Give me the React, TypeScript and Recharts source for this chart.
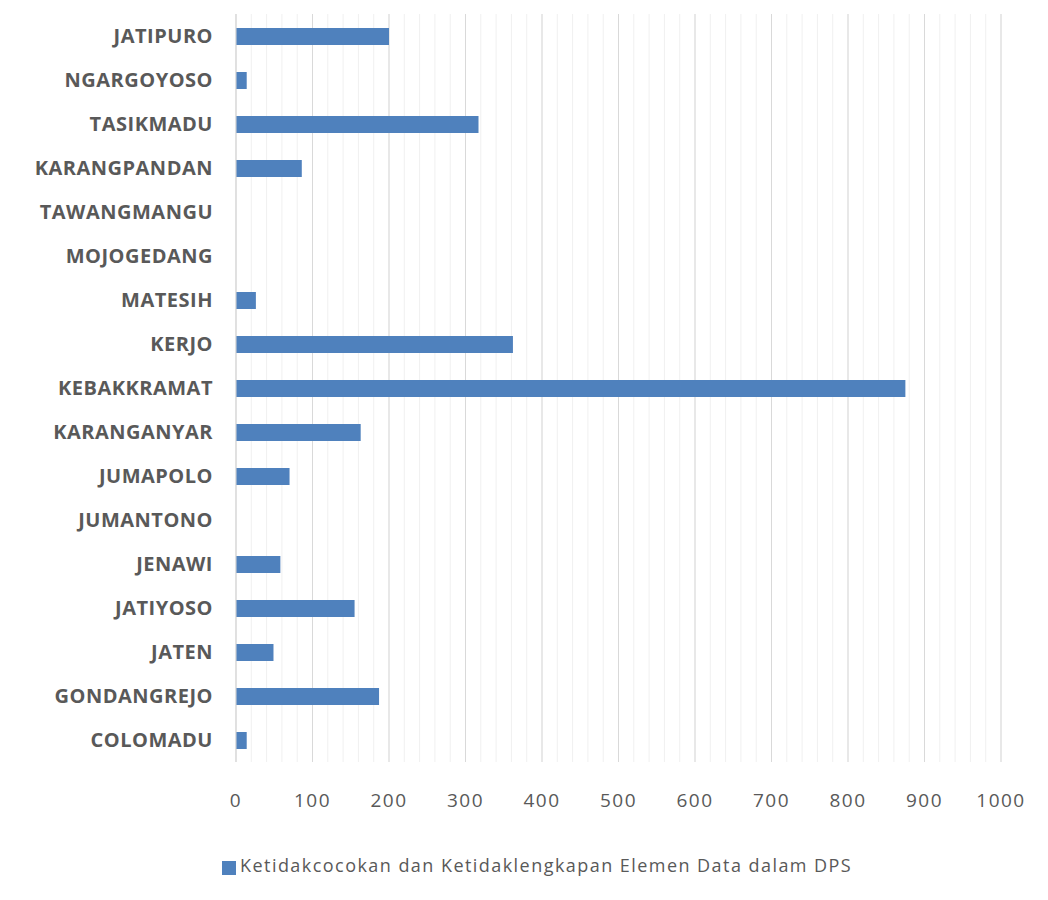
import { Bar, BarChart, CartesianGrid, Legend, XAxis, YAxis } from 'recharts'

const kecamatan = [
  'JATIPURO',
  'NGARGOYOSO',
  'TASIKMADU',
  'KARANGPANDAN',
  'TAWANGMANGU',
  'MOJOGEDANG',
  'MATESIH',
  'KERJO',
  'KEBAKKRAMAT',
  'KARANGANYAR',
  'JUMAPOLO',
  'JUMANTONO',
  'JENAWI',
  'JATIYOSO',
  'JATEN',
  'GONDANGREJO',
  'COLOMADU',
]

const ketidakcocokan = [200, 14, 317, 86, 0, 0, 26, 362, 875, 163, 70, 0, 58, 155, 49, 187, 14]

const majorTicks = [0, 100, 200, 300, 400, 500, 600, 700, 800, 900, 1000]
const minorTicks = Array.from({ length: 51 }, (_, i) => i * 20)

const seriesName = 'Ketidakcocokan dan Ketidaklengkapan Elemen Data dalam DPS'

const data = kecamatan.map((name, i) => ({ name, value: ketidakcocokan[i] }))

const BLUE = '#4F81BD'
const TEXT = '#595959'

// minor gridlines every 20 units
const minorLines = ({ xAxis, offset }: any) => {
  const sc = xAxis?.scale
  if (typeof sc === 'function') return minorTicks.map((t) => sc(t))
  return minorTicks.map((t) => offset.left + (t / 1000) * offset.width)
}

export default function App() {
  return (
    <div style={{ marginLeft: -2, borderLeft: '2px solid #e3e3e3', width: 1032, height: 884 }}>
      <BarChart
        width={1032}
        height={884}
        data={data}
        layout="vertical"
        margin={{ top: 6, right: 39, left: 0, bottom: 44 }}
      >
        <CartesianGrid horizontal={false} stroke="#F0F0F0" verticalCoordinatesGenerator={minorLines} />
        <CartesianGrid horizontal={false} stroke="#D9D9D9" />
        <XAxis
          type="number"
          domain={[0, 1000]}
          ticks={majorTicks}
          height={60}
          axisLine={false}
          tickLine={false}
          tickSize={0}
          tickMargin={32}
          tick={{ fill: TEXT, fontSize: 19, fontFamily: 'Open Sans', letterSpacing: 1.5 }}
        />
        <YAxis
          type="category"
          dataKey="name"
          width={228}
          axisLine={{ stroke: '#D9D9D9' }}
          tickLine={false}
          tickSize={0}
          tickMargin={23}
          interval={0}
          tick={{ fill: TEXT, fontSize: 20, fontWeight: 700, fontFamily: 'Open Sans', letterSpacing: 0.5 }}
        />
        <Legend
          align="left"
          verticalAlign="bottom"
          iconType="square"
          iconSize={14}
          wrapperStyle={{ left: 214, bottom: 13, width: 'auto', height: 26 }}
          formatter={(value: string) => (
            <span style={{ color: TEXT, fontSize: 18, fontFamily: 'Open Sans', letterSpacing: 1.45 }}>{value}</span>
          )}
        />
        <Bar dataKey="value" name={seriesName} fill={BLUE} barSize={17} isAnimationActive={false} />
      </BarChart>
    </div>
  )
}
